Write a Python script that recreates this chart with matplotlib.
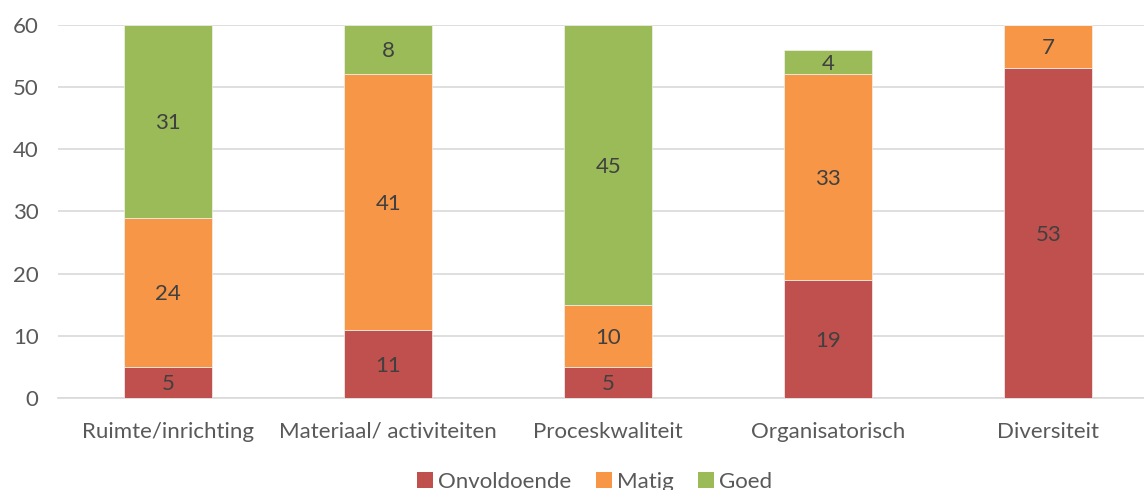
import matplotlib.pyplot as plt
import numpy as np

categories = ["Ruimte/inrichting", "Materiaal/ activiteiten", "Proceskwaliteit",
              "Organisatorisch", "Diversiteit"]
onvoldoende = [5, 11, 5, 19, 53]
matig = [24, 41, 10, 33, 7]
goed = [31, 8, 45, 4, 0]

series = [("Onvoldoende", onvoldoende, "#C0504D"),
          ("Matig", matig, "#F79646"),
          ("Goed", goed, "#9BBB59")]

plt.rcParams['font.family'] = ['Lato', 'DejaVu Sans']
text_col = "#404040"
tick_col = "#595959"
fs = 16

fig = plt.figure(figsize=(11.44, 4.9), dpi=100)
ax = fig.add_axes([0.0507, 0.1878, 0.962, 0.7618])

x = np.arange(len(categories))
bottom = np.zeros(len(categories))
for name, vals, col in series:
    vals = np.array(vals, dtype=float)
    ax.bar(x, vals, 0.4, bottom=bottom, color=col, label=name,
           edgecolor="#F2F2F2", linewidth=0.5, zorder=3)
    for xi, b, v in zip(x, bottom, vals):
        if v > 0:
            ax.text(xi, b + v / 2 - 0.3, f"{int(v)}", ha="center", va="center",
                    fontsize=fs, color=text_col, zorder=4)
    bottom += vals

ax.set_xlim(-0.5, 4.5)
ax.set_ylim(0, 60)
ax.set_yticks(range(0, 61, 10))
ax.set_xticks(x)
ax.set_xticklabels(categories)
ax.tick_params(axis="both", length=0, labelsize=fs, colors=tick_col)
ax.tick_params(axis="x", pad=17)
ax.tick_params(axis="y", pad=14)
ax.yaxis.grid(True, color="#D9D9D9", linewidth=1.2, zorder=0)
for s in ["top", "right", "left"]:
    ax.spines[s].set_visible(False)
ax.spines["bottom"].set_color("#D9D9D9")
ax.spines["bottom"].set_linewidth(1.2)

leg = fig.legend(loc="lower center", bbox_to_anchor=(0.520, -0.045), ncol=3,
                 frameon=False, fontsize=fs, handlelength=0.7, handleheight=0.7,
                 handletextpad=0.25, columnspacing=1.1)
for t in leg.get_texts():
    t.set_color(tick_col)
for h in leg.legend_handles:
    h.set_edgecolor("none")

fig.savefig("out.png", dpi=100)
